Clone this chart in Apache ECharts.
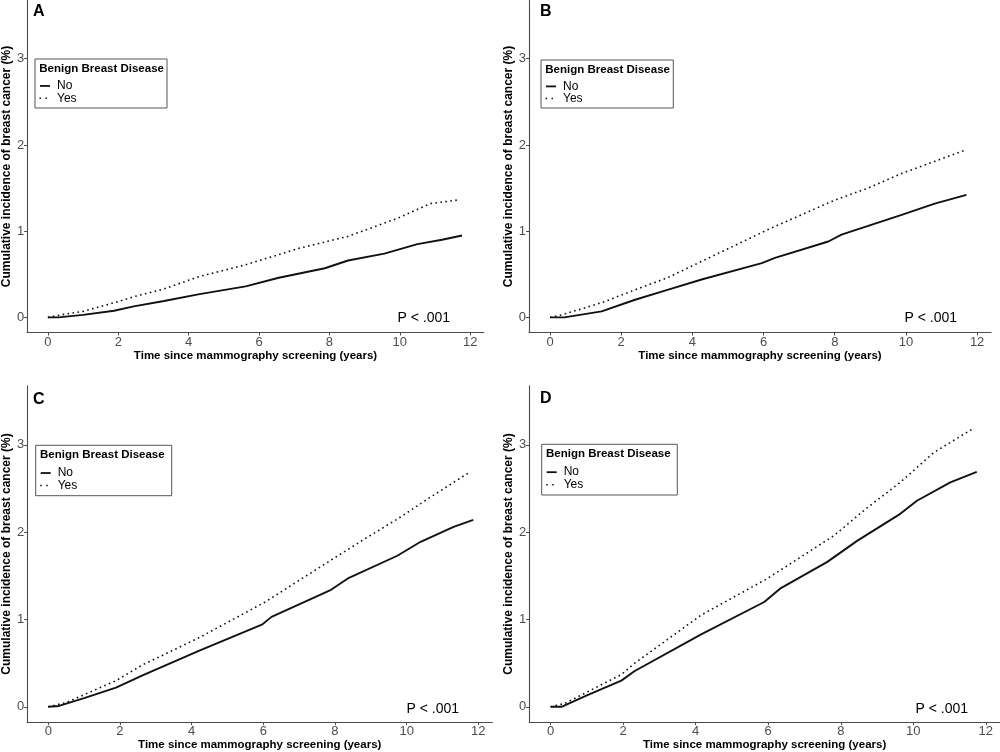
<!DOCTYPE html>
<html>
<head>
<meta charset="utf-8">
<script src="https://cdn.jsdelivr.net/npm/echarts@6/dist/echarts.min.js"></script>
<style>
html,body{margin:0;padding:0;background:#fff;}
#chart{width:1000px;height:752px;}
</style>
</head>
<body>
<div id="chart"></div>
<script>
// ---- data (time in years, cumulative incidence in %) ----
const xTicks = [0, 2, 4, 6, 8, 10, 12];
const yTicks = [0, 1, 2, 3];
const panelLetters = ['A', 'B', 'C', 'D'];
const legendTitle = 'Benign Breast Disease';
const groupNames = ['No', 'Yes'];
const pText = 'P < .001';
const xTitle = 'Time since mammography screening (years)';
const yTitle = 'Cumulative incidence of breast cancer (%)';

const aNo  = [[0,0],[0.3,0],[1.0,0.03],[1.88,0.077],[2.44,0.128],[3.3,0.19],[4.31,0.27],[5.62,0.36],[6.56,0.46],[7.87,0.57],[8.53,0.66],[9.56,0.74],[10.5,0.85],[11.2,0.9],[11.77,0.95]];
const aYes = [[0,0],[0.38,0.03],[1.0,0.07],[1.88,0.17],[2.44,0.24],[3.3,0.33],[4.31,0.475],[5.62,0.61],[7.12,0.80],[8.53,0.94],[9.94,1.15],[10.87,1.32],[11.62,1.36]];
const bNo  = [[0,0],[0.4,0],[1.45,0.07],[2.39,0.205],[3.3,0.32],[4.26,0.44],[5.95,0.63],[6.32,0.69],[7.82,0.88],[8.19,0.96],[9.88,1.19],[10.81,1.32],[11.7,1.42]];
const bYes = [[0,0],[0.33,0.03],[1.45,0.17],[2.39,0.32],[3.3,0.46],[4.26,0.65],[6.13,1.02],[8.0,1.36],[8.94,1.50],[9.88,1.67],[10.81,1.81],[11.66,1.94]];
const cNo  = [[0,0],[0.3,0.01],[1.0,0.1],[1.89,0.22],[2.63,0.36],[4.2,0.64],[5.96,0.94],[6.23,1.03],[7.89,1.34],[8.36,1.47],[9.74,1.73],[10.39,1.89],[11.31,2.06],[11.86,2.14]];
const cYes = [[0,0],[0.51,0.05],[1.89,0.30],[2.63,0.48],[4.2,0.79],[6.05,1.20],[7.89,1.68],[8.82,1.92],[9.74,2.15],[10.66,2.40],[11.77,2.69]];
const dNo  = [[0,0],[0.3,0],[1.0,0.13],[1.95,0.30],[2.32,0.41],[4.15,0.83],[5.89,1.20],[6.35,1.36],[7.63,1.66],[8.45,1.90],[9.64,2.21],[10.1,2.36],[11.02,2.57],[11.75,2.69]];
const dYes = [[0,0],[0.4,0.04],[1.95,0.37],[2.32,0.50],[4.15,1.05],[5.98,1.47],[7.81,1.96],[8.73,2.28],[9.64,2.57],[10.56,2.91],[11.66,3.19]];

const seriesNo = [aNo, bNo, cNo, dNo];
const seriesYes = [aYes, bYes, cYes, dYes];

// ---- layout ----
const FONT = 'Liberation Sans, Arial, Helvetica, sans-serif';
const xRange = [-0.59, 12.39];
const yRange = [-0.175, 3.675];
const grids = [
  {left: 22.3, top: 0.5, width: 461.6, height: 332},
  {left: 529, top: 0.5, width: 462, height: 332},
  {left: 23.7, top: 385.9, width: 468.6, height: 338.8},
  {left: 529.2, top: 385.9, width: 472.5, height: 338.8}
];
const letterPos = [[33, 4], [540, 3.5], [33, 391.5], [540, 391]];
const legendBoxes = [
  {x: 35, y: 59, w: 132, h: 49},
  {x: 541, y: 60, w: 132.3, h: 48},
  {x: 35.7, y: 445.3, w: 136, h: 50.4},
  {x: 541.7, y: 444.3, w: 135.6, h: 50.7}
];
const pPos = [[450, 317.7], [957, 317.7], [459, 709], [968, 709]];

const axisColor = '#4a4a4a';
const xAxes = [], yAxes = [], series = [], graphic = [];

grids.forEach((g, i) => {
  xAxes.push({
    type: 'value', gridIndex: i, min: xRange[0], max: xRange[1],
    name: xTitle, nameLocation: 'middle', nameGap: 14,
    nameTextStyle: {fontFamily: FONT, fontWeight: 'bold', fontSize: 11.5, color: '#000'},
    axisLine: {show: true, onZero: false, lineStyle: {color: axisColor, width: 1.1}},
    axisTick: {show: true, length: 3, customValues: xTicks, lineStyle: {color: axisColor}},
    axisLabel: {show: true, margin: 3, fontFamily: FONT, fontSize: 13, color: '#4d4d4d', customValues: xTicks},
    splitLine: {show: false}
  });
  yAxes.push({
    type: 'value', gridIndex: i, min: yRange[0], max: yRange[1],
    name: yTitle, nameLocation: 'middle', nameGap: 8, nameRotate: 90,
    nameTextStyle: {fontFamily: FONT, fontWeight: 'bold', fontSize: 12, color: '#000'},
    axisLine: {show: true, onZero: false, lineStyle: {color: axisColor, width: 1.1}},
    axisTick: {show: true, length: 3, customValues: yTicks, lineStyle: {color: axisColor}},
    axisLabel: {show: true, margin: 3, fontFamily: FONT, fontSize: 13, color: '#4d4d4d', customValues: yTicks},
    splitLine: {show: false}
  });
  series.push({
    name: groupNames[0], type: 'line', xAxisIndex: i, yAxisIndex: i,
    data: seriesNo[i], showSymbol: false, symbol: 'none', smooth: false,
    lineStyle: {color: '#111', width: 1.9, type: 'solid'}, z: 3
  });
  series.push({
    name: groupNames[1], type: 'line', xAxisIndex: i, yAxisIndex: i,
    data: seriesYes[i], showSymbol: false, symbol: 'none', smooth: false,
    lineStyle: {color: '#111', width: 1.6, type: [1.6, 3.4]}, z: 2
  });

  graphic.push({type: 'text', x: letterPos[i][0], y: letterPos[i][1], z: 10,
    style: {text: panelLetters[i], font: 'bold 16px ' + FONT, fill: '#000', align: 'left', verticalAlign: 'top'}});
  graphic.push({type: 'text', x: pPos[i][0], y: pPos[i][1], z: 10,
    style: {text: pText, font: '14px ' + FONT, fill: '#000', align: 'right', verticalAlign: 'middle'}});
  const b = legendBoxes[i];
  graphic.push({type: 'rect', z: 10, shape: {x: b.x, y: b.y, width: b.w, height: b.h},
    style: {fill: '#fff', stroke: '#555', lineWidth: 1}});
  graphic.push({type: 'text', z: 11, x: b.x + 4.3, y: b.y + 9.7,
    style: {text: legendTitle, font: 'bold 11.5px ' + FONT, fill: '#000', align: 'left', verticalAlign: 'middle'}});
  const yNo = b.y + b.h * 0.55, yYes = b.y + b.h * 0.8;
  graphic.push({type: 'line', z: 11, shape: {x1: b.x + 5, y1: yNo, x2: b.x + 15, y2: yNo},
    style: {stroke: '#111', lineWidth: 1.8}});
  graphic.push({type: 'text', z: 11, x: b.x + 22, y: yNo,
    style: {text: groupNames[0], font: '12px ' + FONT, fill: '#000', align: 'left', verticalAlign: 'middle'}});
  graphic.push({type: 'line', z: 11, shape: {x1: b.x + 4.5, y1: yYes, x2: b.x + 15, y2: yYes},
    style: {stroke: '#111', lineWidth: 1.5, lineDash: [1.5, 4.5]}});
  graphic.push({type: 'text', z: 11, x: b.x + 22, y: yYes,
    style: {text: groupNames[1], font: '12px ' + FONT, fill: '#000', align: 'left', verticalAlign: 'middle'}});
});

const chart = echarts.init(document.getElementById('chart'), null, {renderer: 'canvas'});
chart.setOption({
  animation: false,
  backgroundColor: '#fff',
  grid: grids.map(g => Object.assign({containLabel: false}, g)),
  xAxis: xAxes,
  yAxis: yAxes,
  series: series,
  graphic: graphic
});
</script>
</body>
</html>
